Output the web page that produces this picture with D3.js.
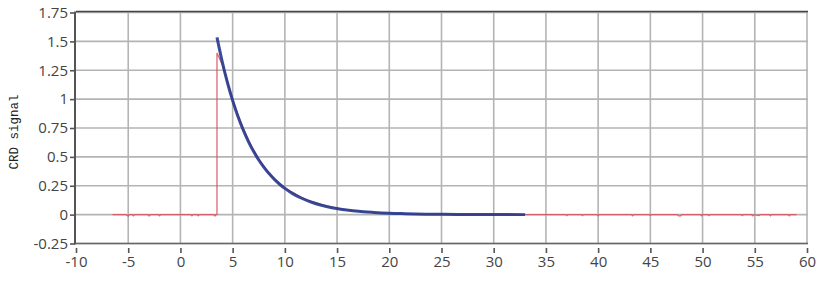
<!DOCTYPE html>
<html>
<head>
<meta charset="utf-8">
<script src="https://cdn.jsdelivr.net/npm/d3@7.9.0/dist/d3.min.js"></script>
<style>
  body { margin: 0; background: #fff; }
  svg { display: block; }
  .tick text { font-family: "Open Sans", sans-serif; font-size: 15px; fill: #444; }
</style>
</head>
<body>
<svg width="825" height="290"></svg>
<script>
// measured signal (red)
const redX = [-6.5, -5.2, -5.0, -4.9, -4.6, -4.5, -4.4, -3.1, -3.0, -2.9, -2.1, -2.0, -1.9, 1.0, 1.1, 1.2, 1.6, 1.7, 1.8, 3.2, 3.3, 3.4, 3.5,
  3.5, 3.6, 4, 4.5, 5, 5.5, 6, 6.5, 7, 7.5, 8, 8.5, 9, 9.5, 10, 10.5, 11, 11.5, 12, 12.5, 13, 14, 15, 16, 17, 18, 19, 20, 21, 22, 24, 26, 28, 33,
  36.9, 37, 37.1, 38.4, 38.5, 38.6, 39.9, 40, 40.1, 43.2, 43.3, 43.4, 44.9, 45, 45.1, 47.6, 47.7, 47.9, 48, 49.8, 49.9, 50, 50.5, 50.6, 50.7,
  53.7, 53.8, 53.9, 54.7, 54.8, 54.9, 55.4, 55.5, 56.4, 56.5, 56.6, 58.2, 58.3, 58.4, 59];
const redY = [0, 0, -0.012, 0, 0, -0.01, 0, 0, -0.012, 0, 0, -0.01, 0, 0, -0.01, 0, 0, -0.01, 0, 0, -0.012, 0, 0,
  1.40, 1.38, 1.30, 1.15, 1.00, 0.87, 0.75, 0.65, 0.56, 0.485, 0.42, 0.36, 0.31, 0.27, 0.235, 0.205, 0.18, 0.155, 0.135, 0.115, 0.10, 0.075, 0.056, 0.042, 0.031, 0.023, 0.016, 0.011, 0.008, 0.005, 0.002, 0.001, 0, 0,
  0, -0.008, 0, 0, -0.008, 0, 0, -0.01, 0, 0, -0.01, 0, 0, -0.008, 0, 0, -0.01, -0.01, 0, 0, -0.01, 0, 0, -0.008, 0,
  0, -0.008, 0, 0, -0.01, 0, -0.008, 0, 0, -0.01, 0, 0, -0.01, 0, 0];

// exponential fit (blue)
const fitX = [3.5, 4, 4.5, 5, 5.5, 6, 6.5, 7, 7.5, 8, 8.5, 9, 9.5, 10, 10.5, 11, 11.5, 12.5, 13.5, 14.5, 15.5, 16.5, 17.5, 18.5, 20, 21.5, 23.5, 26.5, 30, 33];
const fitY = [1.535, 1.325, 1.144, 0.987, 0.852, 0.736, 0.635, 0.548, 0.473, 0.409, 0.353, 0.305, 0.263, 0.227, 0.196, 0.169, 0.146, 0.109, 0.081, 0.060, 0.045, 0.034, 0.025, 0.019, 0.012, 0.008, 0.004, 0.002, 0.001, 0];

const xTicks = [-10, -5, 0, 5, 10, 15, 20, 25, 30, 35, 40, 45, 50, 55, 60];
const xLabels = ["-10", "-5", "0", "5", "10", "15", "20", "25", "30", "35", "40", "45", "50", "55", "60"];
const yTicks = [-0.25, 0, 0.25, 0.5, 0.75, 1, 1.25, 1.5, 1.75];
const yLabels = ["-0.25", "0", "0.25", "0.5", "0.75", "1", "1.25", "1.5", "1.75"];

const svg = d3.select("svg");
const x = d3.scaleLinear().domain([-10, 60]).range([76, 807]);
const y = d3.scaleLinear().domain([-0.25, 1.75]).range([243.5, 12.5]);

// grid
svg.append("g").selectAll("line").data(xTicks.slice(1)).join("line")
  .attr("x1", d => x(d)).attr("x2", d => x(d))
  .attr("y1", y(1.75)).attr("y2", y(-0.25))
  .attr("stroke", "#b4b4b4").attr("stroke-width", 1.6);
svg.append("g").selectAll("line").data(yTicks).join("line")
  .attr("x1", x(-10)).attr("x2", x(60) + 1)
  .attr("y1", d => y(d)).attr("y2", d => y(d))
  .attr("stroke", "#b4b4b4").attr("stroke-width", 1.6);

// frame
svg.append("line").attr("x1", x(-10)).attr("x2", x(60) + 1)
  .attr("y1", y(1.75) - 1).attr("y2", y(1.75) - 1)
  .attr("stroke", "#444").attr("stroke-width", 1.6);
svg.append("line").attr("x1", x(-10)).attr("x2", x(60) + 1)
  .attr("y1", y(-0.25)).attr("y2", y(-0.25))
  .attr("stroke", "#666").attr("stroke-width", 1.6);

// axes
const xAxis = svg.append("g").attr("transform", "translate(0,248)")
  .call(d3.axisBottom(x).tickValues(xTicks).tickFormat((d, i) => xLabels[i]).tickSize(5).tickPadding(3));
xAxis.select(".domain").remove();
xAxis.selectAll(".tick line").attr("stroke", "#555").attr("stroke-width", 1.6);

const yAxis = svg.append("g").attr("transform", "translate(75,0)")
  .call(d3.axisLeft(y).tickValues(yTicks).tickFormat((d, i) => yLabels[i]).tickSize(5).tickPadding(2));
yAxis.select(".domain").attr("stroke", "#555").attr("stroke-width", 2)
  .attr("d", `M0,${y(1.75) - 1}V${y(-0.25) + 1}`);
yAxis.selectAll(".tick line").attr("stroke", "#555").attr("stroke-width", 1.6);

// y label
svg.append("text")
  .attr("transform", "translate(18,132) rotate(-90)")
  .attr("text-anchor", "middle")
  .attr("font-family", "'Liberation Mono', 'Courier New', monospace")
  .attr("font-size", 12.5)
  .attr("fill", "#222")
  .text("CRD signal");

const line = d3.line().x(d => x(d[0])).y(d => y(d[1]));

svg.append("path")
  .datum(redX.map((v, i) => [v, redY[i]]))
  .attr("d", line)
  .attr("fill", "none").attr("stroke", "#d6505c").attr("stroke-width", 1.3)
  .attr("stroke-opacity", 0.85);

svg.append("path")
  .datum(fitX.map((v, i) => [v, fitY[i]]))
  .attr("d", d3.line().x(d => x(d[0])).y(d => y(d[1])).curve(d3.curveMonotoneX))
  .attr("fill", "none").attr("stroke", "#25398e").attr("stroke-width", 3)
  .attr("stroke-opacity", 0.9);
</script>
</body>
</html>
